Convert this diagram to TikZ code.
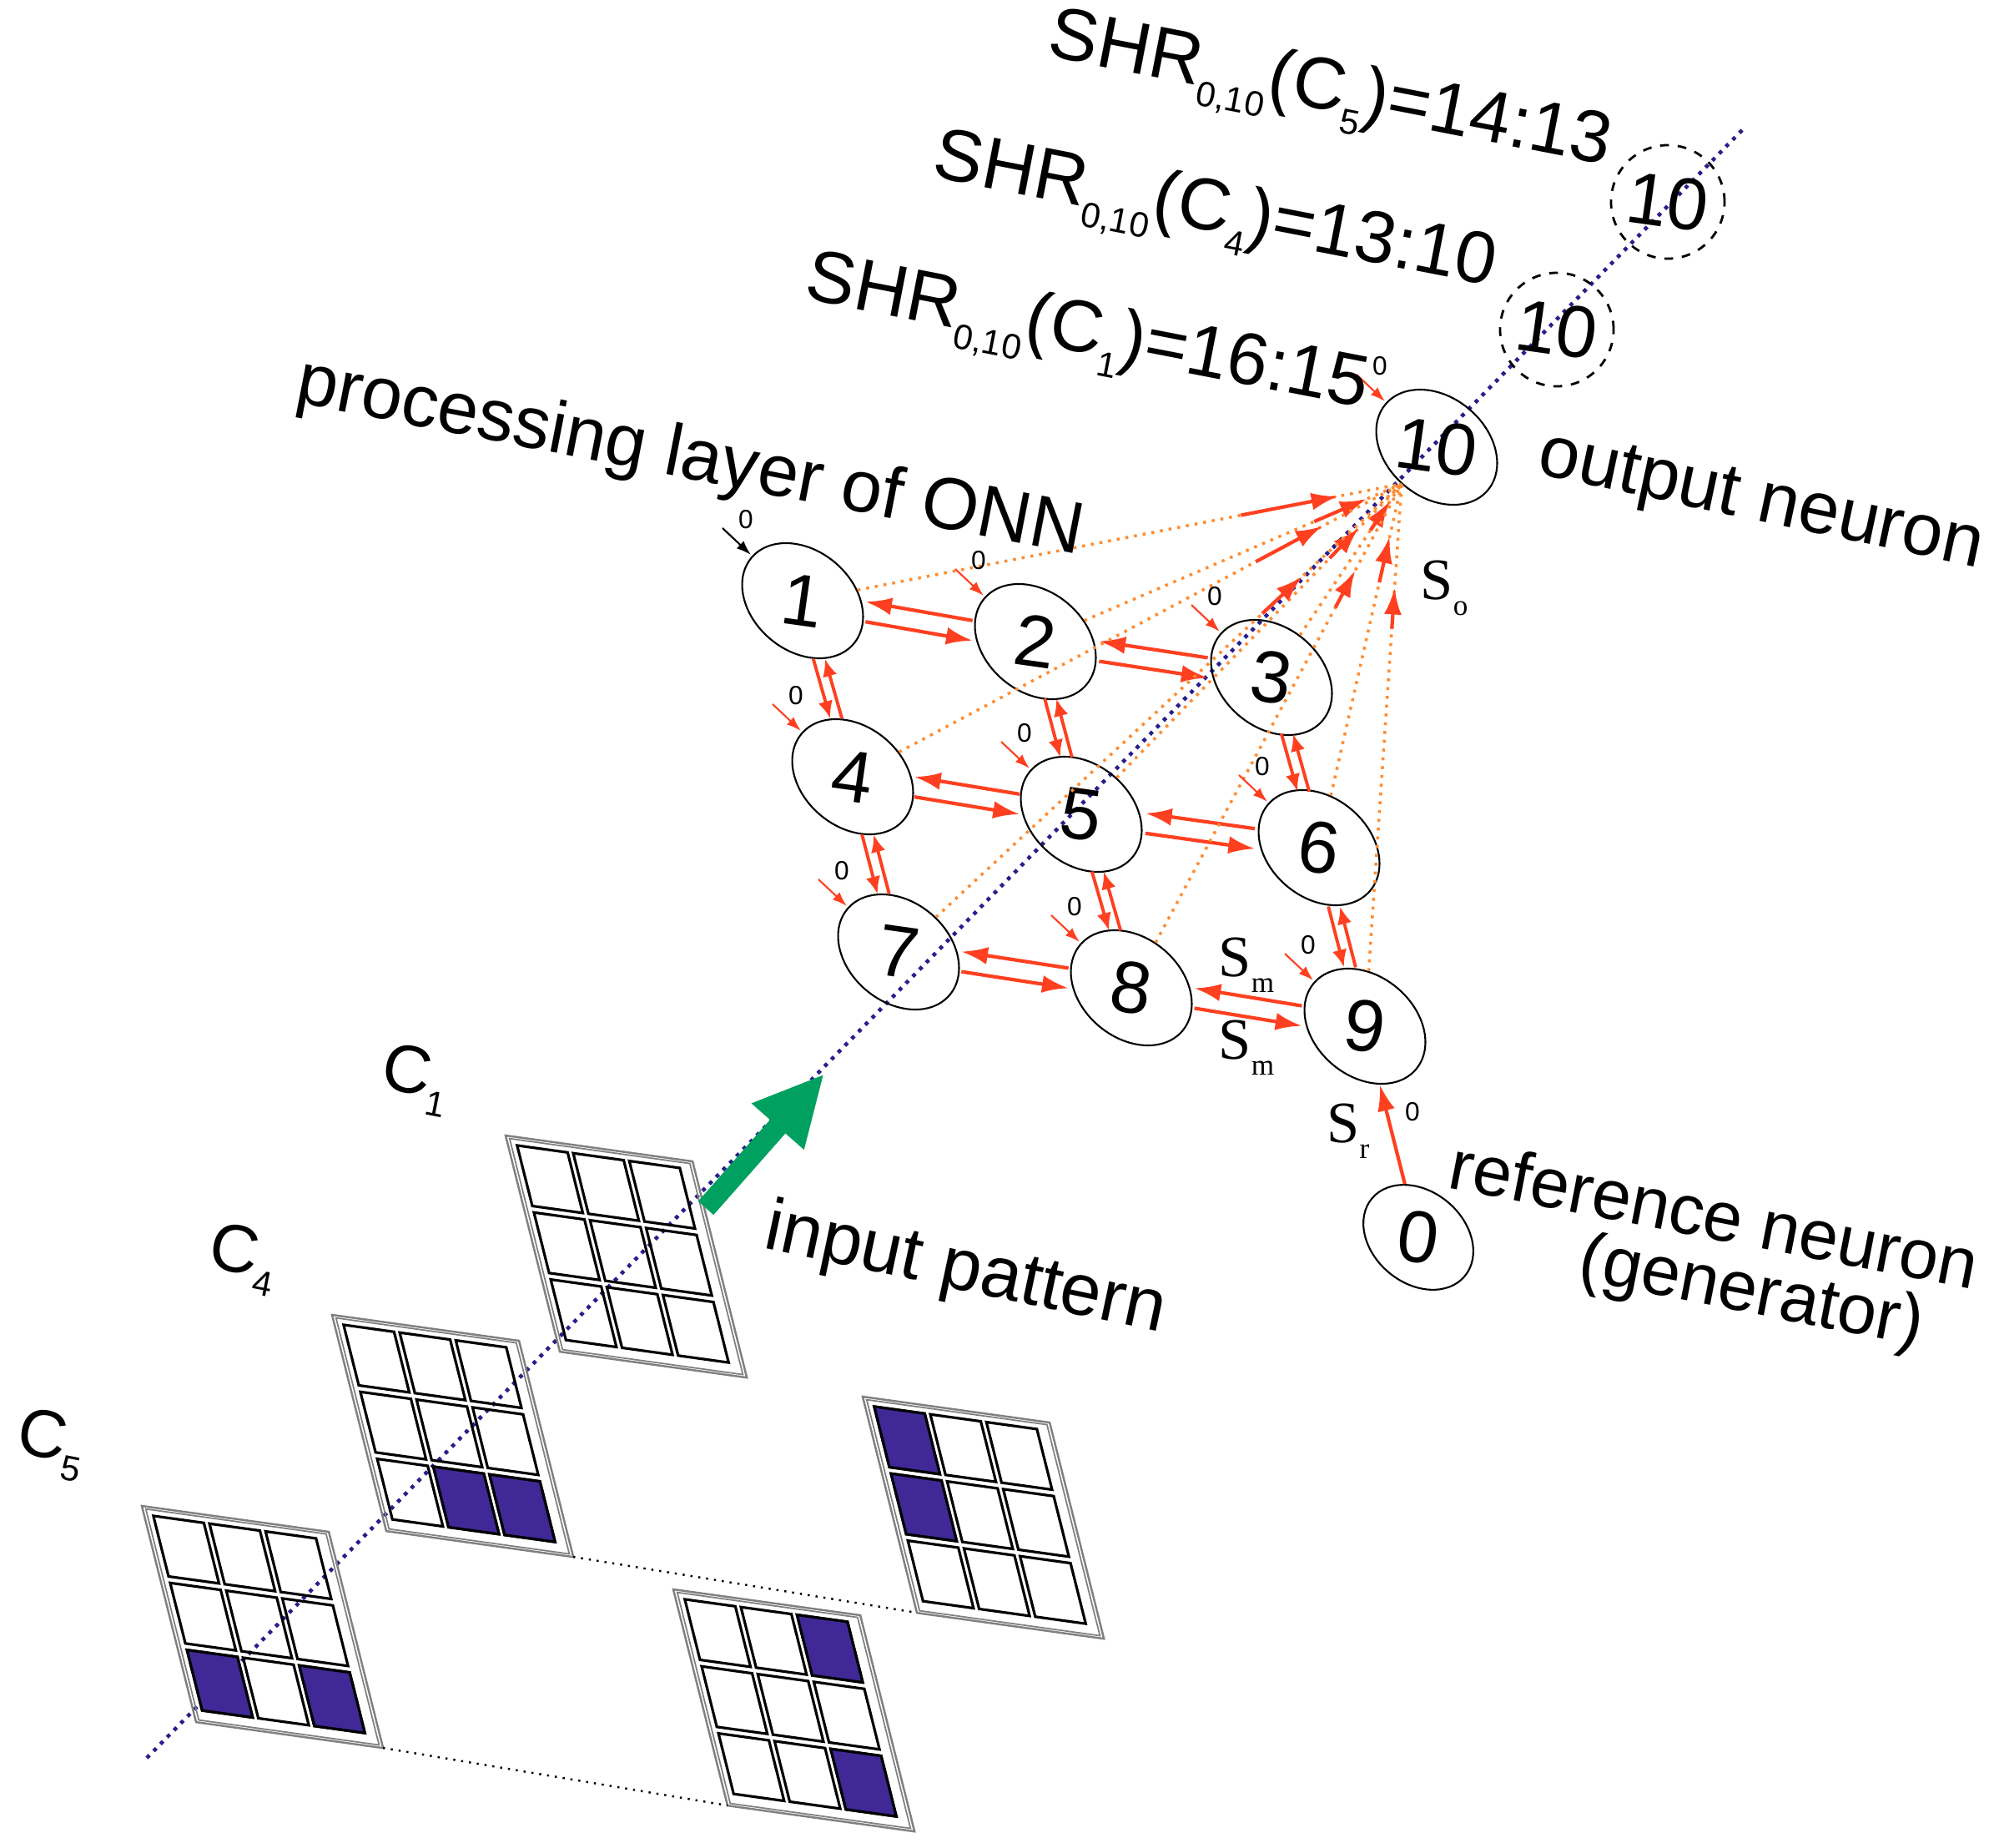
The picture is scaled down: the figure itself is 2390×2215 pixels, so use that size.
\documentclass[tikz,border=0pt]{standalone}
\usepackage{fontspec}
\setmainfont{Liberation Sans}
\newfontfamily\ser{Liberation Serif}
\usetikzlibrary{shapes.geometric,arrows.meta,calc}
\definecolor{redo}{RGB}{255,64,32}
\definecolor{orng}{RGB}{255,140,50}
\definecolor{navyb}{RGB}{40,30,140}
\definecolor{purp}{RGB}{64,40,150}
\definecolor{grn}{RGB}{0,160,96}
\newcommand\sbs[1]{\raisebox{-0.5ex}{\upshape\fontsize{12}{12}\selectfont #1}}
\newcommand\gridat[1]{\begin{scope}[shift={#1}, x={(2.24cm,-0.31cm)}, y={(0.65cm,-2.59cm)}]
 \draw[gray, line width=0.7pt] (0,0)--(1,0)--(1,1)--(0,1)--cycle;
 \draw[gray, line width=0.5pt] (0.018,0.012)--(0.982,0.012)--(0.982,0.988)--(0.018,0.988)--cycle;
 \foreach \r in {0,1,2}{\foreach \c in {0,1,2}{
   \draw[line width=0.9pt] ({0.05+\c*0.3},{0.04+\r*0.31}) -- ++(0.27,0) -- ++(0,0.28) -- ++(-0.27,0) -- cycle;}}
 \end{scope}}
\newcommand\cellf[3]{\begin{scope}[shift={#1}, x={(2.24cm,-0.31cm)}, y={(0.65cm,-2.59cm)}]
 \filldraw[fill=purp, draw=black, line width=0.9pt] ({0.05+#3*0.3},{0.04+#2*0.31}) -- ++(0.27,0) -- ++(0,0.28) -- ++(-0.27,0) -- cycle;
 \end{scope}}
\begin{document}
\begin{tikzpicture}[x=0.01cm,y=0.01cm,
  ell/.style={draw, ellipse, minimum width=1.6cm, minimum height=1.2cm, rotate=-40, inner sep=0pt, line width=0.6pt},
  num/.style={font=\fontsize{25}{25}\selectfont, rotate=-8},
  lab/.style={font=\fontsize{25}{28}\selectfont, rotate=-11},
  ra/.style={draw=redo, line width=1.2pt, -{Latex[length=9pt,width=6pt]}},
  rv/.style={draw=redo, line width=1.1pt, -{Latex[length=6pt,width=5pt]}},
  ri/.style={draw=redo, line width=0.6pt, -{Latex[length=5pt,width=3.5pt]}},
  zero/.style={font=\fontsize{9}{9}\selectfont, inner sep=0pt},
  sser/.style={font=\ser\fontsize{20}{20}\selectfont, inner sep=0pt}]
\useasboundingbox (0,0) rectangle (2390,-2215);
% blue dotted axis
\coordinate (ax0) at (176,-2107);
\coordinate (ax1) at (2091,-153);
\draw[navyb, dotted, line width=1.3pt] (ax0) -- (ax1);
% grids
\gridat{(606,-1361)}
\gridat{(398,-1576)}
\gridat{(170,-1805)}
\gridat{(1034,-1674)}
\gridat{(807,-1905)}
\cellf{(398,-1576)}{2}{1}\cellf{(398,-1576)}{2}{2}
\cellf{(170,-1805)}{2}{0}\cellf{(170,-1805)}{2}{2}
\cellf{(1034,-1674)}{0}{0}\cellf{(1034,-1674)}{1}{0}
\cellf{(807,-1905)}{0}{2}\cellf{(807,-1905)}{2}{2}
\coordinate (c4br) at (687,-1866); \coordinate (r1bl) at (1099,-1933);
\coordinate (c5br) at (459,-2095); \coordinate (r2bl) at (872,-2164);
\draw[dotted, line width=0.7pt] (c4br) -- (r1bl);
\draw[dotted, line width=0.7pt] (c5br) -- (r2bl);
% green arrow
\coordinate (ga) at (846,-1448); \coordinate (gb) at (988,-1287);
\draw[grn, line width=7pt, -{Triangle[length=24pt,width=22pt]}] (ga) -- (gb);
% nodes
\foreach \n/\x/\y in {1/962/720,2/1241/769,3/1524/812,4/1022/931,5/1296/976,6/1581/1016,7/1077/1141,8/1356/1184,9/1636/1230,10/1722/536}{
  \node[ell] (n\n) at (\x,-\y) {};
  \node[num] at (n\n) {\n};}
\node[ell, minimum width=1.45cm, minimum height=1.1cm] (n0) at (1700,-1483) {};
\node[num] at (n0) {0};
\node[draw, dashed, circle, minimum size=1.36cm, inner sep=0pt, line width=0.8pt] (d1) at (1866,-395) {};
\node[num] at (d1) {10};
\node[draw, dashed, circle, minimum size=1.36cm, inner sep=0pt, line width=0.8pt] (d2) at (1999,-242) {};
\node[num] at (d2) {10};
% neighbour connections
\foreach \a/\b in {n1/n2,n2/n3,n4/n5,n5/n6,n7/n8,n8/n9}{
  \draw[ra] ($(\b)!0.27!(\a)+(0,12)$) -- ($(\b)!0.73!(\a)+(0,12)$);
  \draw[ra] ($(\a)!0.27!(\b)+(0,-12)$) -- ($(\a)!0.73!(\b)+(0,-12)$);}
\foreach \a/\b in {n1/n4,n4/n7,n2/n5,n5/n8,n3/n6,n6/n9}{
  \draw[rv] ($(\a)!0.33!(\b)+(-7,0)$) -- ($(\a)!0.67!(\b)+(-7,0)$);
  \draw[rv] ($(\b)!0.33!(\a)+(7,0)$) -- ($(\b)!0.67!(\a)+(7,0)$);}
% fan to output
\coordinate (P) at (1680,-580);
\foreach \n/\t/\l in {n1/0.78cm/1.96cm,n2/0.46cm/1.14cm,n3/0.25cm/0.67cm,n4/1.08cm/1.98cm,n5/0.74cm/1.24cm,n6/0.65cm/1.21cm,n7/1.63cm/2.28cm,n8/1.18cm/1.68cm,n9/1.25cm/1.74cm}{
  \draw[orng, dotted, line width=1pt] (\n) -- (P);
  \draw[ra] ($(P)!\l!(\n)$) -- ($(P)!\t!(\n)$);}
% initial-phase arrows
\foreach \n in {n2,n3,n4,n5,n6,n7,n8,n9,n10}{
  \draw[ri] ($(\n)+(-96,87)$) -- ($(\n)+(-62,55)$);
  \node[zero] at ($(\n)+(-68,97)$) {0};}
\draw[line width=0.6pt, -{Latex[length=5pt,width=3.5pt]}] ($(n1)+(-96,87)$) -- ($(n1)+(-62,55)$);
\node[zero] at ($(n1)+(-68,97)$) {0};
% reference to 9
\draw[ra] (n0) -- (n9);
\node[zero] at (1693,-1333) {0};
% labels
\node[lab] at (827,-551) {processing layer of ONN};
\node[lab, rotate=-1] at (2110,-605) {output neuron};
\node[lab] at (1302,-406) {SHR\sbs{0,10}(C\sbs{1})=16:15};
\node[lab] at (1455,-260) {SHR\sbs{0,10}(C\sbs{4})=13:10};
\node[lab] at (1593,-115) {SHR\sbs{0,10}(C\sbs{5})=14:13};
\node[lab, rotate=-1] at (1157,-1524) {input pattern};
\node[lab, font=\fontsize{24}{26}\selectfont] at (2055,-1455) {reference neuron};
\node[lab, font=\fontsize{24}{26}\selectfont] at (2099,-1552) {(generator)};
\node[lab, font=\fontsize{23}{23}\selectfont] at (498,-1294) {C\sbs{1}};
\node[lab, font=\fontsize{23}{23}\selectfont] at (291,-1509) {C\sbs{4}};
\node[lab, font=\fontsize{23}{23}\selectfont] at (61,-1731) {C\sbs{5}};
\node[sser] at (1731,-705) {S\raisebox{-0.6ex}{\fontsize{10}{10}\selectfont o}};
\node[sser] at (1494,-1157) {S\raisebox{-0.6ex}{\fontsize{10}{10}\selectfont m}};
\node[sser] at (1494,-1256) {S\raisebox{-0.6ex}{\fontsize{10}{10}\selectfont m}};
\node[sser] at (1616,-1356) {S\raisebox{-0.6ex}{\fontsize{10}{10}\selectfont r}};
\end{tikzpicture}
\end{document}
